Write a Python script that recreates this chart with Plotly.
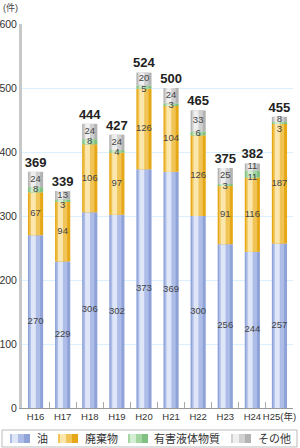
import numpy as np
import plotly.graph_objects as go

categories = ["H16", "H17", "H18", "H19", "H20", "H21", "H22", "H23", "H24", "H25(年)"]
oil = [270, 229, 306, 302, 373, 369, 300, 256, 244, 257]
waste = [67, 94, 106, 97, 126, 104, 126, 91, 116, 187]
noxious = [8, 3, 8, 4, 5, 3, 6, 3, 11, 3]
other = [24, 13, 24, 24, 20, 24, 33, 25, 11, 8]
series_names = ["油", "廃棄物", "有害液体物質", "その他"]
y_ticks = [0, 100, 200, 300, 400, 500, 600]

series = [oil, waste, noxious, other]
# edge, mid, highlight colours per series
palettes = [
    ("#8fa3d8", "#aebde8", "#dfe6f7"),
    ("#e6a817", "#f1c457", "#fbe7ad"),
    ("#80c080", "#a3d5a3", "#d3eed3"),
    ("#b3b3b3", "#d0d0d0", "#efefef"),
]

vals = np.array(series, dtype=float)
bases = np.vstack([np.zeros(len(categories)), np.cumsum(vals, axis=0)[:-1]])
totals = vals.sum(axis=0)

FONT = "Liberation Sans, Noto Sans CJK JP, sans-serif"
fig = go.Figure()

layers = [(0.56, None, 0), (0.40, -0.23, 1), (0.18, -0.17, 2)]
for i, (v, b) in enumerate(zip(vals, bases)):
    for w, off, ci in layers:
        kw = dict(width=w)
        if off is not None:
            kw["offset"] = off
        fig.add_trace(go.Bar(
            x=categories, y=v, base=b, marker=dict(color=palettes[i][ci], line=dict(width=0)),
            showlegend=False, hoverinfo="skip", **kw))

# segment label positions (keep small-segment labels apart)
label_y = bases + vals / 2
label_y[2] = np.minimum(label_y[2], label_y[3] - 16)
for i, v in enumerate(vals):
    fig.add_trace(go.Scatter(
        x=categories, y=label_y[i], mode="text", text=[str(int(t)) for t in v],
        textfont=dict(family=FONT, size=9.5, color="#444444"),
        showlegend=False, hoverinfo="skip"))

# totals (label placed just above the stack)
fig.add_trace(go.Scatter(
    x=categories, y=totals + 3, mode="text", text=[f"<b>{int(t)}</b>" for t in totals],
    textposition="top center", textfont=dict(family=FONT, size=13, color="#222222"),
    showlegend=False, hoverinfo="skip"))

shapes = []
annotations = []
pw = 293 - 22
ph = 384
# legend box
shapes.append(dict(type="rect", xref="paper", yref="paper", x0=(2 - 22) / pw, x1=(297 - 22) / pw,
                   y0=-(447 - 408) / ph, y1=-(430 - 408) / ph,
                   line=dict(color="#bbbbbb", width=1), fillcolor="white"))
leg_items = [(10, 35), (58, 83), (128, 152), (231, 256)]
for i, (sx, tx) in enumerate(leg_items):
    x0 = (sx - 22) / pw
    x1 = (sx + 20 - 22) / pw
    y0 = -(443 - 408) / ph
    y1 = -(434 - 408) / ph
    shapes.append(dict(type="rect", xref="paper", yref="paper", x0=x0, x1=x1, y0=y0, y1=y1,
                       line=dict(width=0), fillcolor=palettes[i][0]))
    shapes.append(dict(type="rect", xref="paper", yref="paper", x0=x0, x1=x0 + 14 / pw, y0=y0, y1=y1,
                       line=dict(width=0), fillcolor=palettes[i][1]))
    shapes.append(dict(type="rect", xref="paper", yref="paper", x0=x0 + 2 / pw, x1=x0 + 8 / pw, y0=y0, y1=y1,
                       line=dict(width=0), fillcolor=palettes[i][2]))
    annotations.append(dict(xref="paper", yref="paper", x=(tx - 22) / pw, y=-(438.5 - 408) / ph,
                            text=series_names[i], showarrow=False, xanchor="left", yanchor="middle",
                            font=dict(family=FONT, size=11, color="#333333")))

annotations.append(dict(xref="paper", yref="paper", x=-21 / pw, y=(408 - 8) / ph, text="(件)",
                        showarrow=False, xanchor="left", yanchor="middle",
                        font=dict(family=FONT, size=9, color="#444444")))

fig.update_layout(
    width=300, height=448,
    margin=dict(l=22, r=7, t=24, b=40, autoexpand=False),
    barmode="overlay",
    plot_bgcolor="white", paper_bgcolor="white",
    showlegend=False,
    shapes=shapes, annotations=annotations,
    font=dict(family=FONT, color="#333333"),
    xaxis=dict(type="category", showline=True, linecolor="#999999", linewidth=1,
               ticks="inside", tickson="boundaries", ticklen=6, tickcolor="#aaaaaa",
               tickangle=0, tickfont=dict(family=FONT, size=9.5, color="#333333"), showgrid=False,
               automargin=False, fixedrange=True),
    yaxis=dict(range=[0, 600], tickvals=y_ticks, showline=True, linecolor="#c8c8c8", linewidth=3,
               gridcolor="#dcefff", gridwidth=1, zeroline=False, ticks="",
               tickfont=dict(family=FONT, size=10.5, color="#333333"), ticklabelstandoff=0,
               automargin=False, fixedrange=True),
)

fig.write_html("out.html")
